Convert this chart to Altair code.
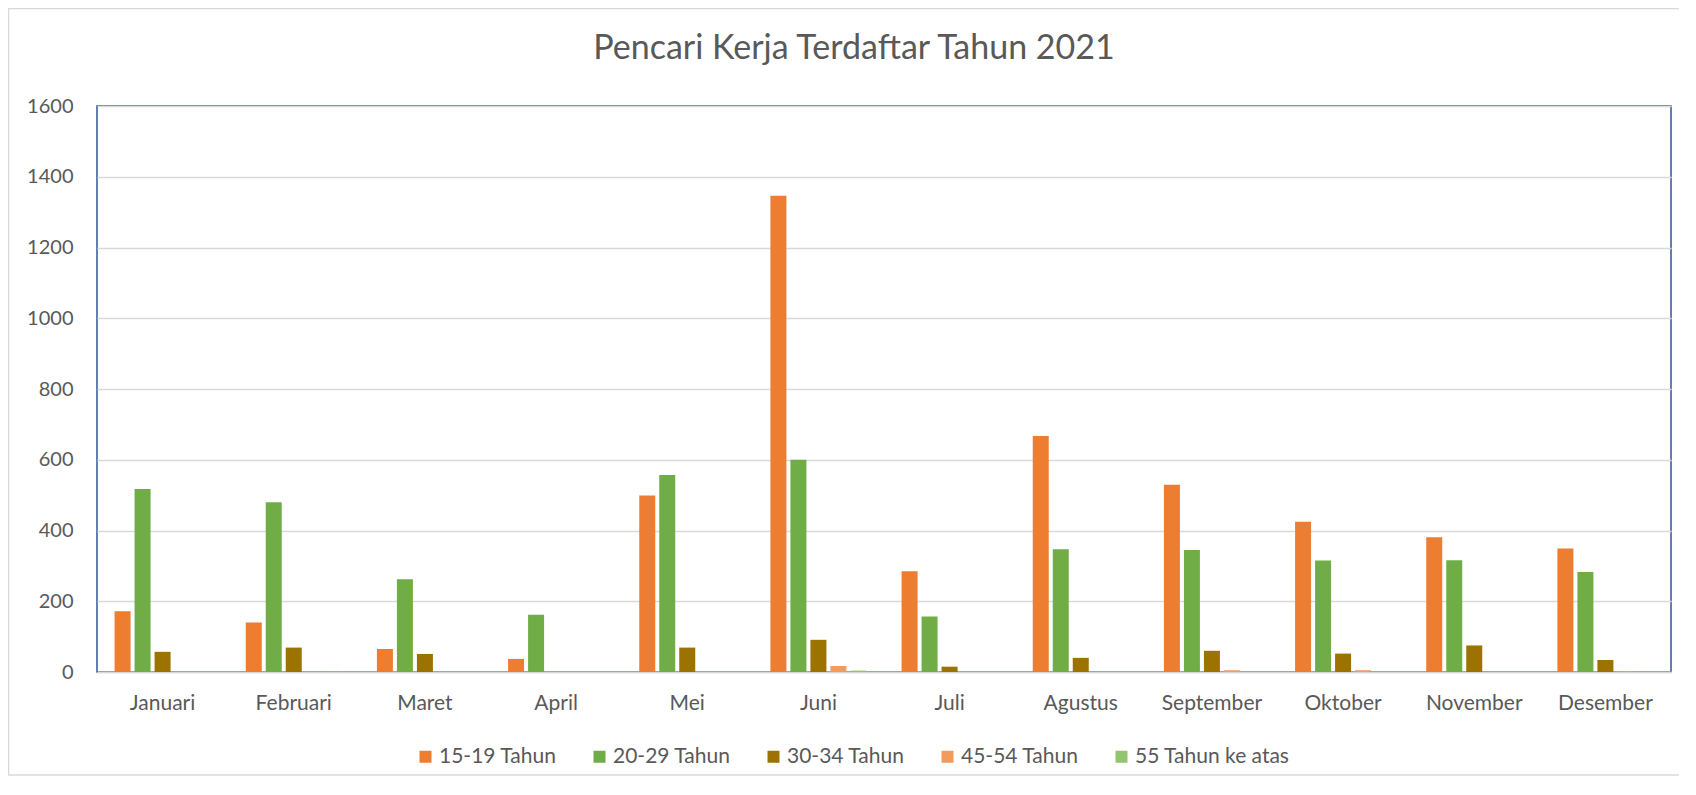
import altair as alt
import pandas as pd

months = ["Januari", "Februari", "Maret", "April", "Mei", "Juni", "Juli",
          "Agustus", "September", "Oktober", "November", "Desember"]
series = ["15-19 Tahun", "20-29 Tahun", "30-34 Tahun", "45-54 Tahun", "55 Tahun ke atas"]

v_15_19 = [172, 140, 65, 37, 499, 1346, 285, 667, 529, 425, 381, 349]
v_20_29 = [517, 480, 262, 162, 557, 600, 157, 347, 345, 315, 316, 283]
v_30_34 = [57, 69, 51, 0, 69, 91, 15, 40, 60, 52, 75, 34]
v_45_54 = [0, 0, 0, 0, 0, 17, 0, 0, 5, 5, 0, 2]
v_55_up = [0, 2, 0, 0, 0, 4, 0, 0, 0, 0, 0, 0]

colors = ["#ED7D31", "#70AD47", "#9C7200", "#F29B5E", "#92C56D"]

rows = []
for s, vals in zip(series, [v_15_19, v_20_29, v_30_34, v_45_54, v_55_up]):
    for m, v in zip(months, vals):
        rows.append({"Bulan": m, "Kelompok": s, "Jumlah": v})
df = pd.DataFrame(rows)

FONT = "Lato"
TXT = "#595959"

bars = alt.Chart(df).mark_bar().encode(
    x=alt.X("Bulan:N", sort=months,
            scale=alt.Scale(paddingInner=0.268, paddingOuter=0.134),
            axis=alt.Axis(title=None, labelAngle=0, ticks=False, labelPadding=20,
                          domainColor="#D9D9D9", domainWidth=1.5,
                          labelFontSize=21, labelFont=FONT, labelColor=TXT)),
    xOffset=alt.XOffset("Kelompok:N", sort=series,
                        scale=alt.Scale(paddingInner=0.2, paddingOuter=0)),
    y=alt.Y("Jumlah:Q", scale=alt.Scale(domain=[0, 1600], nice=False),
            axis=alt.Axis(title=None, values=list(range(0, 1601, 200)), format="d",
                          grid=True, gridColor="#D9D9D9", gridWidth=1.3, domain=False,
                          ticks=False, labelPadding=24, labelFontSize=20, labelFont=FONT,
                          labelColor=TXT)),
    color=alt.Color("Kelompok:N", sort=series,
                    scale=alt.Scale(domain=series, range=colors),
                    legend=alt.Legend(title=None, orient="none", legendX=318, legendY=640,
                                      direction="horizontal", columns=5,
                                      symbolType="square", symbolSize=144,
                                      symbolStrokeWidth=0, labelFontSize=21,
                                      labelFont=FONT, labelColor=TXT,
                                      labelOffset=3, columnPadding=32, padding=0)),
)

border = alt.Chart(alt.Data(values=[{}])).mark_rect(
    fill=None, stroke="#D9D9D9", strokeWidth=1.5
).encode(
    x=alt.value(-88.5), x2=alt.value(1700), y=alt.value(-97.5), y2=alt.value(669)
)

chart = alt.layer(border, bars).properties(
    width=1574, height=566,
    padding={"left": 89, "top": 98, "right": 8, "bottom": 104},
    autosize=alt.AutoSizeParams(type="none"),
    title=alt.TitleParams("Pencari Kerja Terdaftar Tahun 2021", fontSize=34, font=FONT,
                          color=TXT, fontWeight="normal", anchor="middle", dx=-30,
                          offset=-85, baseline="alphabetic"),
).configure_view(stroke="#2F5597", strokeWidth=1.5)

chart.save("out.html", embed_options={"renderer": "svg", "actions": False})
